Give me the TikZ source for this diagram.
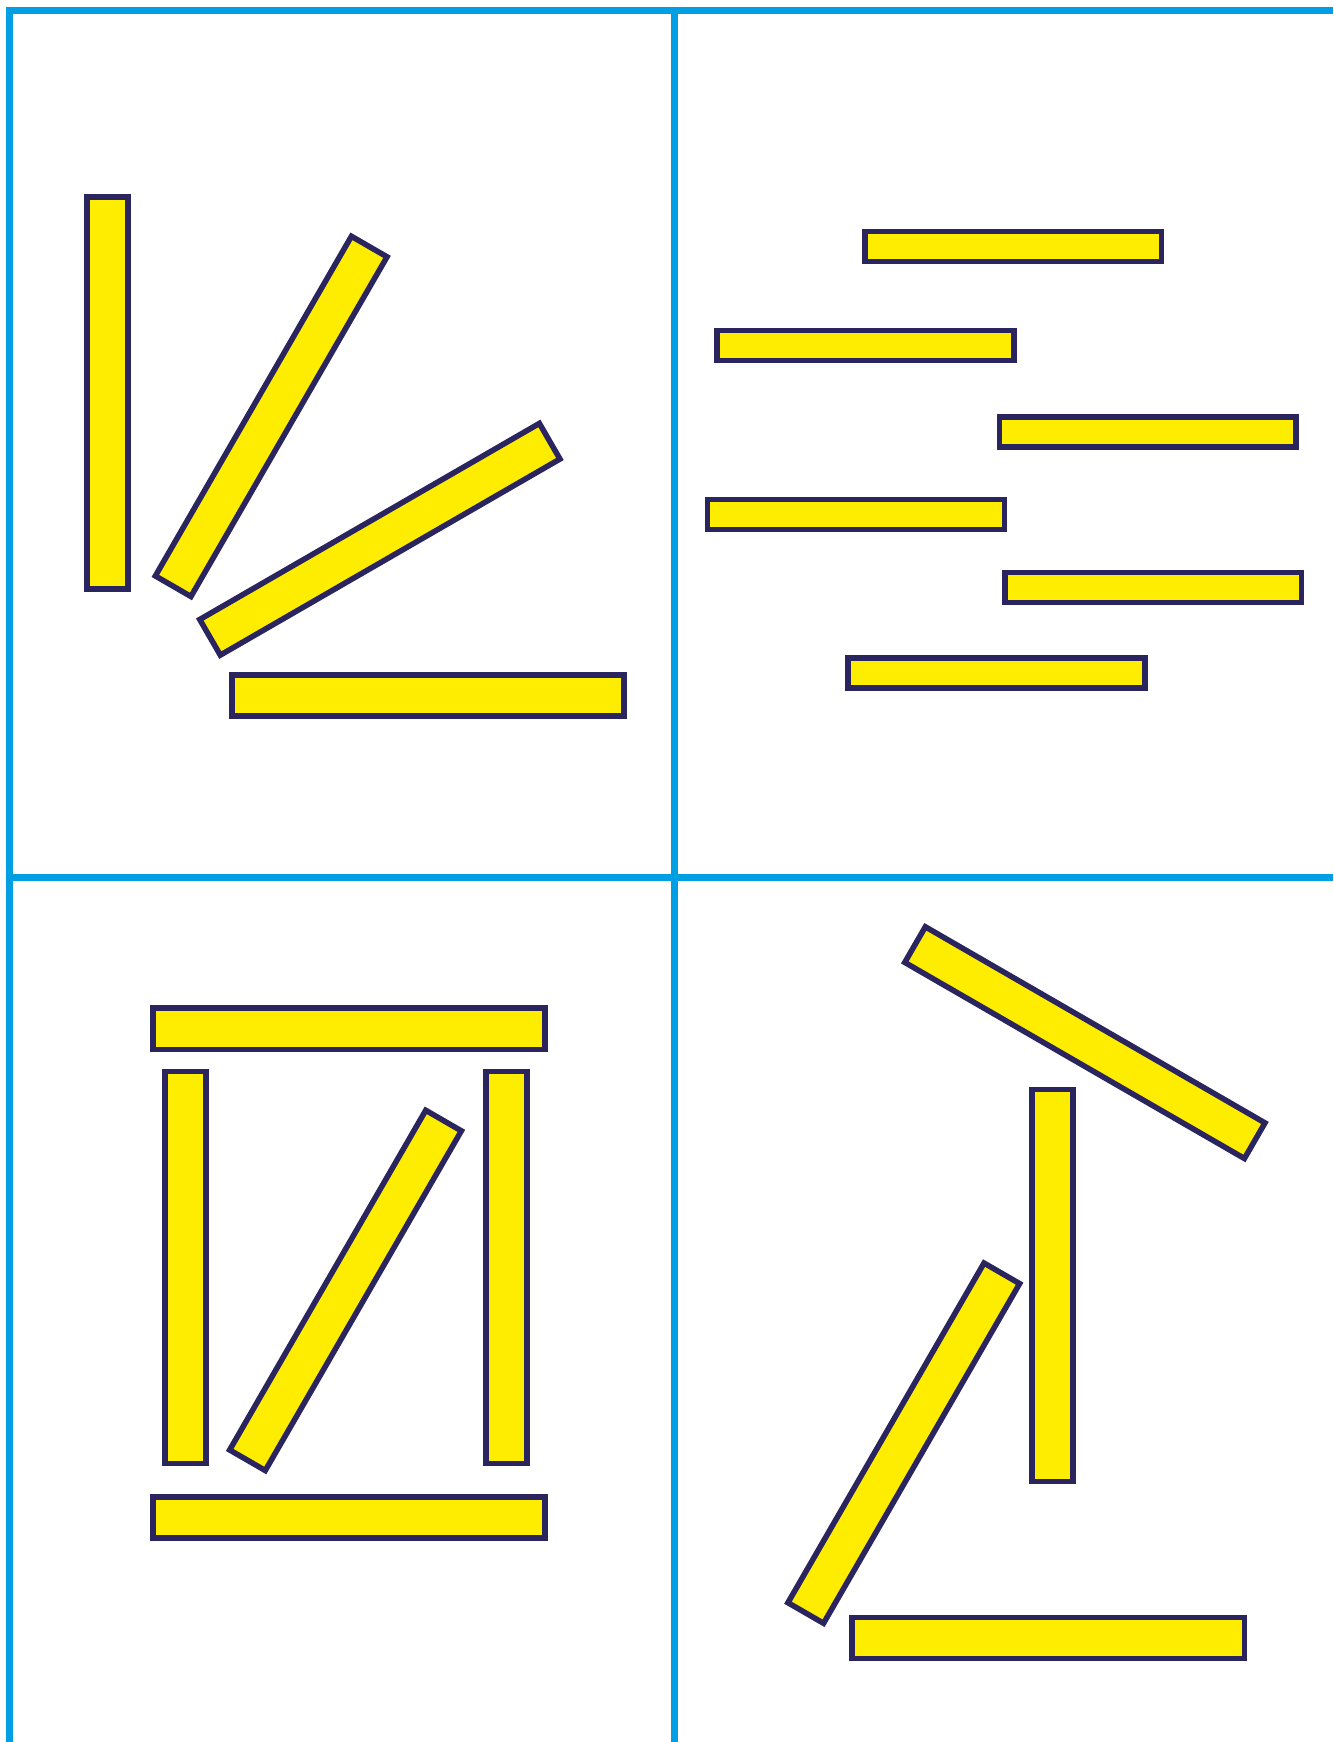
\documentclass[tikz,border=0pt]{standalone}
\usepackage{tikz}
\definecolor{gridblue}{HTML}{009FE3}
\definecolor{stickyellow}{HTML}{FFED00}
\definecolor{stickedge}{RGB}{42,37,94}
\tikzset{
  stick/.style={rectangle, draw=stickedge, fill=stickyellow, line width=0.5mm,
    inner sep=0pt, minimum width=3.53cm, minimum height=0.37cm},
  shortstick/.style={stick, minimum width=2.67cm, minimum height=0.27cm},
  gridline/.style={draw=gridblue, line width=0.6mm}
}

\begin{document}
\begin{tikzpicture}
        \useasboundingbox (0,0) rectangle (12,-15.68);
        \draw[gridline] (12,-0.095) -- (0.085,-0.095) -- (0.085,-15.68);
        \draw[gridline] (6.07,-0.095) -- (6.07,-15.68);
        \draw[gridline] (0.085,-7.9) -- (12,-7.9);
        \begin{scope}
        \node[stick, rotate=90] (a1) at (0.968,-3.538) {};
        \node[stick, rotate=60] (a2) at (2.441,-3.748) {};
        \node[stick, rotate=30] (a3) at (3.419,-4.854) {};
        \node[stick] (a4) at (3.852,-6.262) {};
        \end{scope}
        \begin{scope}[shift={(6.07,0)}]
        \node[shortstick] (b1) at (3.05,-2.22) {};
        \node[shortstick] (b2) at (1.72,-3.11) {};
        \node[shortstick] (b3) at (4.26,-3.89) {};
        \node[shortstick] (b4) at (1.635,-4.63) {};
        \node[shortstick] (b5) at (4.31,-5.29) {};
        \node[shortstick] (b6) at (2.90,-6.06) {};
        \end{scope}
        \begin{scope}[shift={(0,-7.9)}]
        \node[stick] (c1) at (3.14,-1.36) {};
        \node[stick, rotate=90] (c2) at (1.67,-3.51) {};
        \node[stick, rotate=90] (c3) at (4.56,-3.51) {};
        \node[stick, rotate=60] (c4) at (3.11,-3.715) {};
        \node[stick] (c5) at (3.14,-5.76) {};
        \end{scope}
        \begin{scope}[shift={(6.07,-7.9)}]
        \node[stick, rotate=-30] (d1) at (3.695,-1.485) {};
        \node[stick, rotate=90] (d2) at (3.405,-3.67) {};
        \node[stick, rotate=60] (d3) at (2.065,-5.09) {};
        \node[stick] (d4) at (3.365,-6.845) {};
        \end{scope}
        \end{tikzpicture}
\end{document}
